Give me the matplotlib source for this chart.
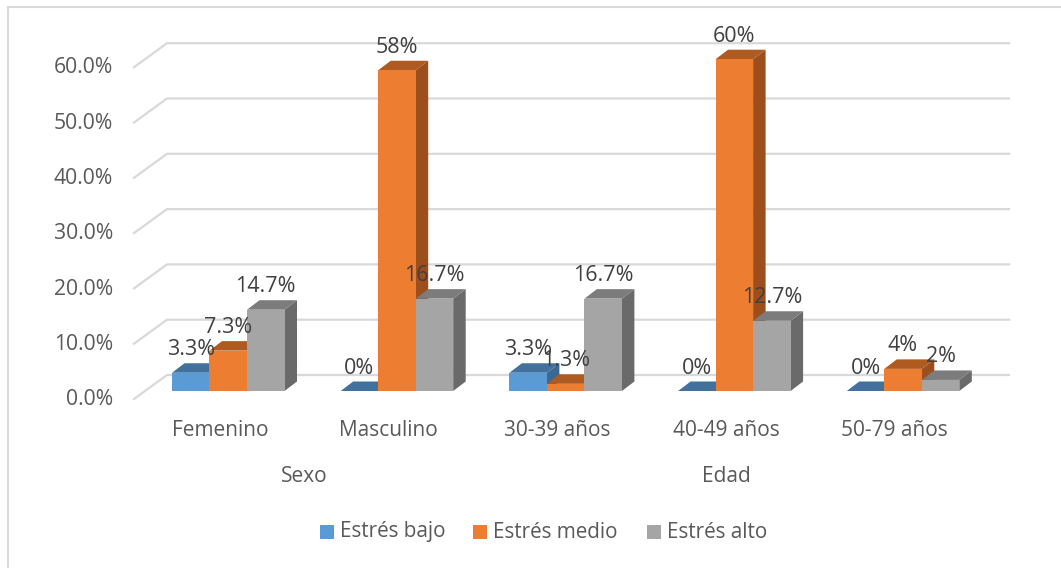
import matplotlib
matplotlib.use("Agg")
from matplotlib import pyplot as plt
from matplotlib.patches import Polygon, Rectangle

categories = ["Femenino", "Masculino", "30-39 años", "40-49 años", "50-79 años"]
groups = ["Sexo", "Edad"]
series = ["Estrés bajo", "Estrés medio", "Estrés alto"]
bajo = [3.3, 0, 3.3, 0, 0]
medio = [7.3, 58, 1.3, 60, 4]
alto = [14.7, 16.7, 16.7, 12.7, 2]
bajo_labels = ["3.3%", "0%", "3.3%", "0%", "0%"]
medio_labels = ["7.3%", "58%", "1.3%", "60%", "4%"]
alto_labels = ["14.7%", "16.7%", "16.7%", "12.7%", "2%"]
y_ticks = [0, 10, 20, 30, 40, 50, 60]

plt.rcParams['font.family'] = ['Open Sans', 'DejaVu Sans']

W, H = 1061, 568
# pixel layout of the plot
x0_px = 228.25   # centre of first group
cat_px = 168.7   # one category
y0_px = 391      # front floor
unit_px = 5.53   # one percent
bar_w = 37.5 / cat_px
dx = 12.5 / cat_px
dy = 9.5 / unit_px
wall_dx = 33 / cat_px
wall_dy = 24 / unit_px  # back wall is above the front axis
axis_off = -8.8 / unit_px
right_end = (1009 - x0_px) / cat_px

fig = plt.figure(figsize=(W/100, H/100), dpi=100)
ax = fig.add_axes([0, 0, 1, 1])
ax.set_xlim(-x0_px/cat_px, (W-x0_px)/cat_px)
ax.set_ylim(-(H-y0_px)/unit_px, y0_px/unit_px)
ax.axis('off')

# outer border of the chart, only left and top are in the picture
ax.add_patch(Rectangle((7.5/W, -20/H), (W+20)/W, (H+20-6.5)/H, transform=fig.transFigure,
                       fc='white', ec='#d9d9d9', lw=1.5, clip_on=False, zorder=0))

# gridlines on the back wall with the diagonal on the side wall
left_x = (134 - x0_px) / cat_px
back_y = 16 / unit_px
for t in y_ticks:
    yb = t + back_y
    ax.plot([left_x, left_x + wall_dx, right_end], [yb - wall_dy, yb, yb],
            color='#d9d9d9', lw=1.6, solid_joinstyle='miter', zorder=1)
    ax.text((113 - x0_px)/cat_px, t + axis_off, f"{t:.1f}%", ha='right', va='center',
            fontsize=15.2, color='#595959', zorder=5)

front = {'#5b9bd5': '#41719c', '#ed7d31': '#ae5a21', '#a5a5a5': '#7c7c7c'}
side = {'#5b9bd5': '#3a6a94', '#ed7d31': '#9c4f1c', '#a5a5a5': '#6a6a6a'}

columns = [(bajo, bajo_labels, '#5b9bd5'), (medio, medio_labels, '#ed7d31'), (alto, alto_labels, '#a5a5a5')]
z = 2
for i in range(len(categories)):
    for j, (vals, labs, col) in enumerate(columns):
        v = vals[i]
        x = i + (j - 1) * bar_w
        xl, xr = x - bar_w/2, x + bar_w/2
        # side and top faces first, so the next bar covers them
        ax.add_patch(Polygon([(xr, 0), (xr+dx, dy), (xr+dx, v+dy), (xr, v)], fc=side[col], ec='none', zorder=z))
        ax.add_patch(Polygon([(xl, v), (xl+dx, v+dy), (xr+dx, v+dy), (xr, v)], fc=front[col], ec='none', zorder=z))
        ax.bar(x, v, width=bar_w, color=col, zorder=z + 0.5)
        z += 1

for i in range(len(categories)):
    for j, (vals, labs, col) in enumerate(columns):
        x = i + (j - 1) * bar_w
        ax.text(x, vals[i] + 23 / unit_px, labs[i], ha='center', va='center',
                fontsize=15.5, color='#404040', zorder=50)
    ax.text(i - 0.05, -39.5 / unit_px, categories[i], ha='center', va='center',
            fontsize=15, color='#595959', zorder=50)

# group labels
ax.text(0.5 - 0.05, -86 / unit_px, groups[0], ha='center', va='center', fontsize=15, color='#595959')
ax.text(3 - 0.05, -86 / unit_px, groups[1], ha='center', va='center', fontsize=15, color='#595959')

# legend
leg_x = [320, 473, 647]
for name, px, (_, _, col) in zip(series, leg_x, columns):
    ax.add_patch(Rectangle((px/W, 1 - 539/H), 14/W, 14/H, transform=fig.transFigure, fc=col, ec='none', zorder=50))
    ax.text((px + 20)/W, 1 - 532/H, name, transform=fig.transFigure, ha='left', va='center',
            fontsize=14.9, color='#595959', zorder=50)

fig.savefig("out.png", dpi=100)
